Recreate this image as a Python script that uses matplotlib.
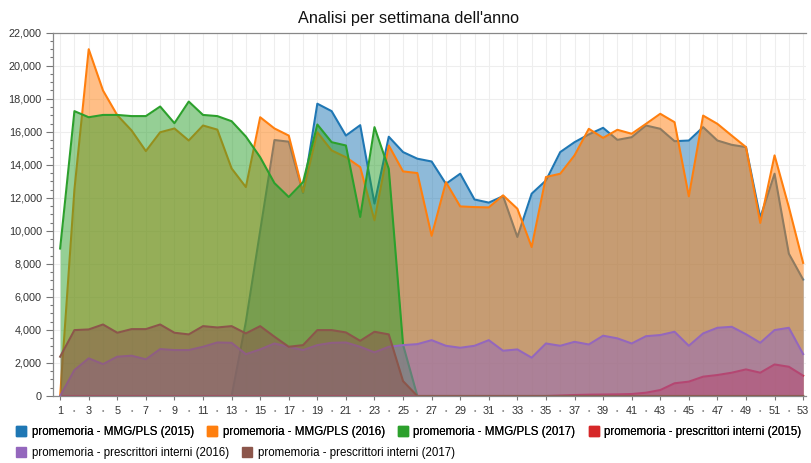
import matplotlib.pyplot as plt
import matplotlib.ticker as ticker
from matplotlib.patches import Patch

plt.rcParams['font.family'] = ['Liberation Sans', 'DejaVu Sans']

weeks = list(range(1, 54))

mmg_2015 = [0, 0, 0, 0, 0, 0, 0, 0, 0, 0, 0, 0, 0,
            4500, 10000, 15500, 15400, 12300, 17700, 17250, 15770, 16400, 11650,
            15700, 14770, 14370, 14200, 12850, 13460, 11900, 11710, 12100, 9630,
            12250, 13050, 14770, 15370, 15840, 16240, 15510, 15670, 16380, 16180,
            15430, 15470, 16280, 15470, 15210, 15070, 10800, 13460, 8620, 7050]

mmg_2016 = [0, 12500, 21000, 18500, 17000, 16080, 14830, 15970, 16200, 15470,
            16380, 16130, 13780, 12650, 16880, 16200, 15770, 12350, 15970, 14870,
            14460, 13860, 10640, 15170, 13600, 13500, 9700, 12950, 11480, 11440,
            11420, 12150, 11340, 9020, 13260, 13460, 14570, 16180, 15630, 16120,
            15880, 16480, 17090, 16580, 12090, 16980, 16480, 15770, 15070, 10480,
            14570, 11440, 8060]

mmg_2017 = [8930, 17250, 16880, 17020, 17020, 16950, 16950, 17530, 16520, 17830,
            17020, 16950, 16640, 15710, 14460, 12890, 12050, 12950, 16440, 15370,
            15170, 10840, 16280, 13760, 3100] + [0] * 28

interni_2015 = [0] * 35 + [30, 60, 80, 90, 100, 120, 200, 360, 770, 870, 1170,
                           1270, 1410, 1610, 1410, 1910, 1770, 1230]

interni_2016 = [0, 1570, 2280, 1930, 2380, 2440, 2220, 2840, 2780, 2780,
                2980, 3240, 3220, 2530, 2820, 3180, 2980, 2780, 3080, 3220,
                3240, 2980, 2640, 2980, 3080, 3140, 3380, 3040, 2920, 3040,
                3380, 2740, 2820, 2320, 3180, 3040, 3280, 3120, 3650, 3490,
                3180, 3620, 3690, 3890, 3040, 3790, 4130, 4190, 3740, 3220,
                3990, 4130, 2540]

interni_2017 = [2380, 3990, 4030, 4330, 3830, 4050, 4050, 4330, 3830, 3730,
                4230, 4150, 4230, 3790, 4230, 3590, 2980, 3080, 3990, 3990,
                3850, 3340, 3890, 3730, 900] + [0] * 28

labels = [
    "promemoria - MMG/PLS (2015)",
    "promemoria - MMG/PLS (2016)",
    "promemoria - MMG/PLS (2017)",
    "promemoria - prescrittori interni (2015)",
    "promemoria - prescrittori interni (2016)",
    "promemoria - prescrittori interni (2017)",
]
colors = ["#1f77b4", "#ff7f0e", "#2ca02c", "#d62728", "#9467bd", "#8c564b"]
values = [mmg_2015, mmg_2016, mmg_2017, interni_2015, interni_2016, interni_2017]

fig = plt.figure(figsize=(8.12, 4.63), dpi=100)
ax = fig.add_axes([53 / 812, 1 - 396 / 463, (806 - 53) / 812, (396 - 32.7) / 463])

for vals, color in zip(values, colors):
    ax.fill_between(weeks, vals, color=color, alpha=0.5, linewidth=0, zorder=2)
    ax.plot(weeks, vals, color=color, linewidth=1.5, zorder=2)

ax.set_xlim(0.5, 53.2)
ax.set_ylim(0, 22000)

odd = [w for w in weeks if w % 2 == 1]
even = [w for w in weeks if w % 2 == 0]
ax.set_xticks(odd, [str(w) for w in odd])
ax.set_xticks(even, ["•"] * len(even), minor=True)
ax.set_yticks(range(0, 22001, 2000))
ax.yaxis.set_minor_locator(ticker.MultipleLocator(500))
ax.yaxis.set_major_formatter(ticker.FuncFormatter(lambda v, p: f"{v:,.0f}"))

ax.tick_params(axis="both", which="major", labelsize=7.8, colors="#777",
               labelcolor="#333", width=0.8)
ax.tick_params(axis="y", which="major", length=5, pad=3)
ax.tick_params(axis="y", which="minor", length=2.5, width=0.8, colors="#777")
ax.tick_params(axis="x", which="major", length=3, pad=4)
ax.tick_params(axis="x", which="minor", length=0, pad=8.5, labelsize=5,
               labelcolor="#888")

ax.grid(True, axis="x", which="both", color="#eeeeee", linewidth=0.8, zorder=0)
ax.grid(True, axis="y", which="major", color="#eeeeee", linewidth=0.8, zorder=0)
ax.set_axisbelow(True)

for side in ["left", "bottom", "top"]:
    ax.spines[side].set_color("#888")
    ax.spines[side].set_linewidth(0.9)
ax.spines["right"].set_visible(False)

fig.text(0.5025, 1 - 18 / 463, "Analisi per settimana dell'anno",
         ha="center", va="center", fontsize=11.7, color="#111")

handles = [Patch(facecolor=c, edgecolor=c) for c in colors]
leg_kw = dict(frameon=False, fontsize=8.3, handlelength=0.85, handleheight=0.85,
              handletextpad=0.5, columnspacing=1.15, borderpad=0,
              borderaxespad=0, loc="center left")
leg1 = fig.legend(handles[:4], labels[:4], ncol=4,
                  bbox_to_anchor=(16 / 812, 1 - 432 / 463), **leg_kw)
fig.add_artist(leg1)
fig.legend(handles[4:], labels[4:], ncol=2,
           bbox_to_anchor=(16 / 812, 1 - 453 / 463), **leg_kw)

fig.savefig("out.png", dpi=100)
